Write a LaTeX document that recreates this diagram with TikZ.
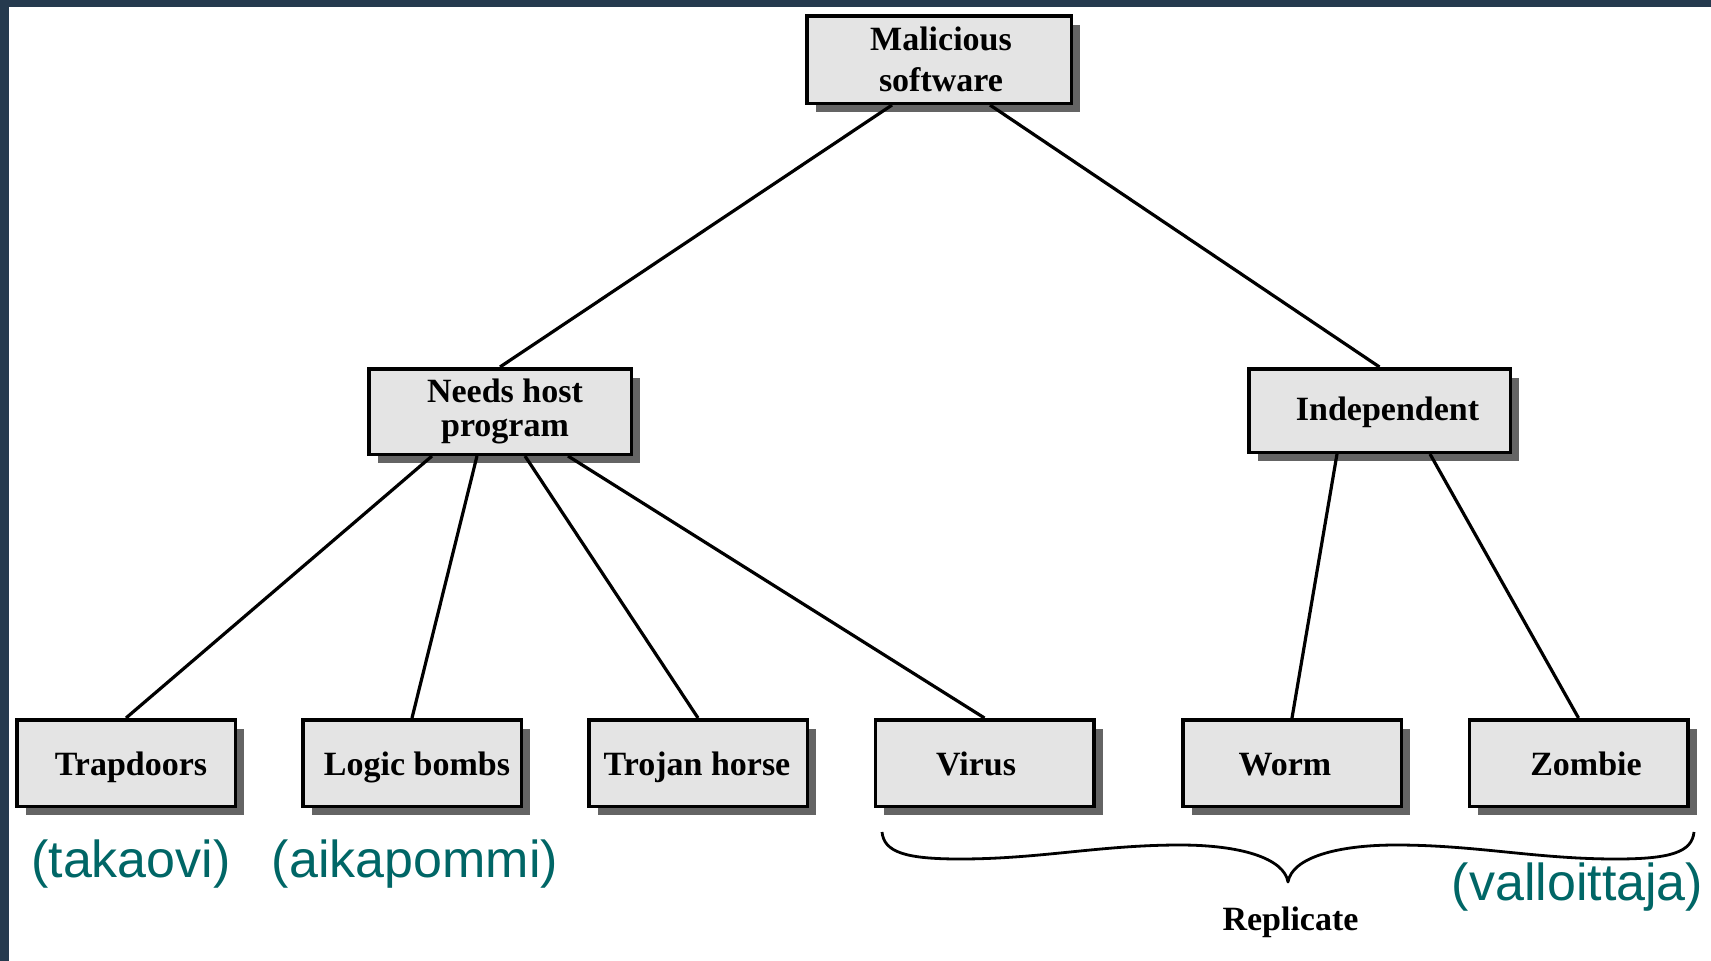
\documentclass[tikz,border=0pt]{standalone}
\usepackage{fontspec}
\setmainfont{Liberation Serif}
\newfontfamily\labfont{Liberation Sans}
\usetikzlibrary{shadows}
\definecolor{framecol}{RGB}{37,58,78}
\definecolor{boxfill}{RGB}{228,228,228}
\definecolor{shcol}{RGB}{100,100,100}
\definecolor{tealtxt}{RGB}{0,102,102}
\newcommand\sh[2]{\hspace*{#1}#2}
\begin{document}
\begin{tikzpicture}[x=1pt,y=-1pt,
  box/.style={draw=black, line width=3.5pt, fill=boxfill, minimum width=218.5pt,
    minimum height=86.5pt, inner sep=0pt, align=center,
    font=\fontsize{34}{34}\selectfont\bfseries,
    drop shadow={shadow xshift=9pt, shadow yshift=-9pt, fill=shcol, opacity=1}},
  oneline/.style={text height=24pt, text depth=0pt},
  conn/.style={line width=3.2pt},
  note/.style={text=tealtxt, font=\labfont\fontsize{52}{52}\selectfont, anchor=base, inner sep=0pt},
  capt/.style={font=\fontsize{34}{34}\selectfont\bfseries, anchor=base, inner sep=0pt},
  brace/.style={line width=2.8pt, line join=round}
]
\useasboundingbox (0,0) rectangle (1711,961);
\fill[white] (0,0) rectangle (1711,961);
\fill[framecol] (0,0) rectangle (1711,7);
\fill[framecol] (0,0) rectangle (9,961);

% top level
\node[box, minimum width=264.5pt, minimum height=87.5pt, font=\fontsize{34}{41}\selectfont\bfseries] (mal) at (939,59.5) {\sh{4pt}{Malicious}\\\sh{4pt}{software}};
\node[box, minimum width=262.5pt, minimum height=85.5pt, font=\fontsize{34}{34}\selectfont\bfseries] (needs) at (500,411.5) {\sh{10pt}{Needs host}\\\sh{10pt}{program}};
\node[box, text height=20pt, text depth=0pt, minimum width=261.5pt, minimum height=83.5pt] (indep) at (1379.5,410.5) {\sh{16pt}{Independent}};

% bottom level
\node[box, oneline] (trap) at (126,763) {\sh{10pt}{Trapdoors}};
\node[box, oneline] (logic) at (412,763) {\sh{10pt}{Logic bombs}};
\node[box, oneline] (trojan) at (698,763) {\sh{-2pt}{Trojan horse}};
\node[box, oneline] (virus) at (984.5,763) {\sh{-17pt}{Virus}};
\node[box, oneline] (worm) at (1292,763) {\sh{-14pt}{Worm}};
\node[box, oneline] (zombie) at (1578.5,763) {\sh{15pt}{Zombie}};

% connectors
\draw[conn] ([xshift=87pt]mal.south west) -- (needs.north);
\draw[conn] ([xshift=185pt]mal.south west) -- (indep.north);
\draw[conn] ([xshift=65pt]needs.south west) -- (trap.north);
\draw[conn] ([xshift=110pt]needs.south west) -- (logic.north);
\draw[conn] ([xshift=158pt]needs.south west) -- (trojan.north);
\draw[conn] ([xshift=201pt]needs.south west) -- (virus.north);
\draw[conn] ([xshift=90pt]indep.south west) -- (worm.north);
\draw[conn] ([xshift=183pt]indep.south west) -- (zombie.north);

% brace
\coordinate (bl) at (882,832);
\coordinate (btip) at (1288,882);
\coordinate (br) at (1694,832);
\draw[brace] (bl) .. controls (884,852) and (905,859) .. (960,859)
  .. controls (1040,859) and (1100,845) .. (1180,845)
  .. controls (1240,845) and (1284,858) .. (btip)
  .. controls (1292,858) and (1336,845) .. (1396,845)
  .. controls (1476,845) and (1536,859) .. (1616,859)
  .. controls (1671,859) and (1692,852) .. (br);
\node[capt] (repl) at (1290.5,930) {Replicate};

% Finnish notes
\node[note] (n1) at (131,877) {(takaovi)};
\node[note] (n2) at (415,877) {(aikapommi)};
\node[note] (n3) at (1577.5,900) {(valloittaja)};
\end{tikzpicture}
\end{document}
